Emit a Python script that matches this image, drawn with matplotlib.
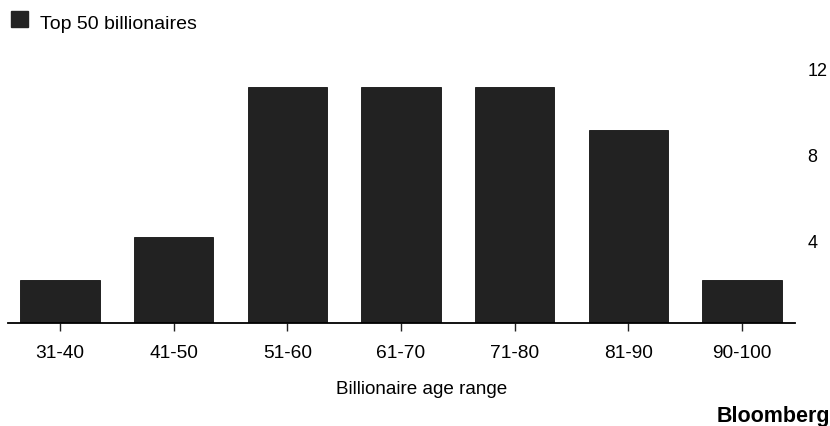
import matplotlib
matplotlib.use("Agg")
import matplotlib.pyplot as plt
import matplotlib.transforms as mtransforms
from matplotlib.patches import Rectangle

plt.rcParams['font.family'] = ['Liberation Sans', 'DejaVu Sans']

# Billionaire counts per age bracket (top 50)
age_ranges = ['31-40', '41-50', '51-60', '61-70', '71-80', '81-90', '90-100']
counts = [2, 4, 11, 11, 11, 9, 2]
y_ticks = [4, 8, 12]

bar_color = '#222222'
W, H = 830, 427

fig = plt.figure(figsize=(W / 100, H / 100), dpi=100)
ax = fig.add_axes([8 / W, 103 / H, 787 / W, 268.75 / H])

x = range(len(age_ranges))
ax.bar(x, counts, width=0.70, color=bar_color, edgecolor='#111111', linewidth=0.6)

ax.set_xlim(-0.457, 6.466)
ax.set_ylim(0, 12.5)

for side in ['top', 'left', 'right']:
    ax.spines[side].set_visible(False)
ax.spines['bottom'].set_linewidth(1.3)

ax.set_xticks(list(x))
ax.set_xticklabels(age_ranges, fontsize=13.8)
ax.tick_params(axis='x', length=6, width=1, pad=9, color='#222222')

ax.yaxis.tick_right()
ax.set_yticks(y_ticks)
ax.set_yticklabels([str(v) for v in y_ticks], fontsize=13)
ax.tick_params(axis='y', length=0, pad=9)
# value labels sit a little below their gridline value
shift = mtransforms.ScaledTranslation(0, -3.5 / 100, fig.dpi_scale_trans)
for lbl in ax.get_yticklabels():
    lbl.set_transform(lbl.get_transform() + shift)

fig.text(422 / W, 1 - 394 / H, 'Billionaire age range', fontsize=13.6,
         ha='center', va='baseline')

# legend swatch and label
fig.patches.append(Rectangle((11 / W, 1 - 28 / H), 17 / W, 16 / H,
                             transform=fig.transFigure, color=bar_color))
fig.text(40 / W, 1 - 29 / H, 'Top 50 billionaires', fontsize=14, va='baseline')

fig.text(830 / W, 1 - 422 / H, 'Bloomberg', fontsize=15.5, fontweight='bold',
         ha='right', va='baseline')

fig.savefig('out.png', dpi=100)
